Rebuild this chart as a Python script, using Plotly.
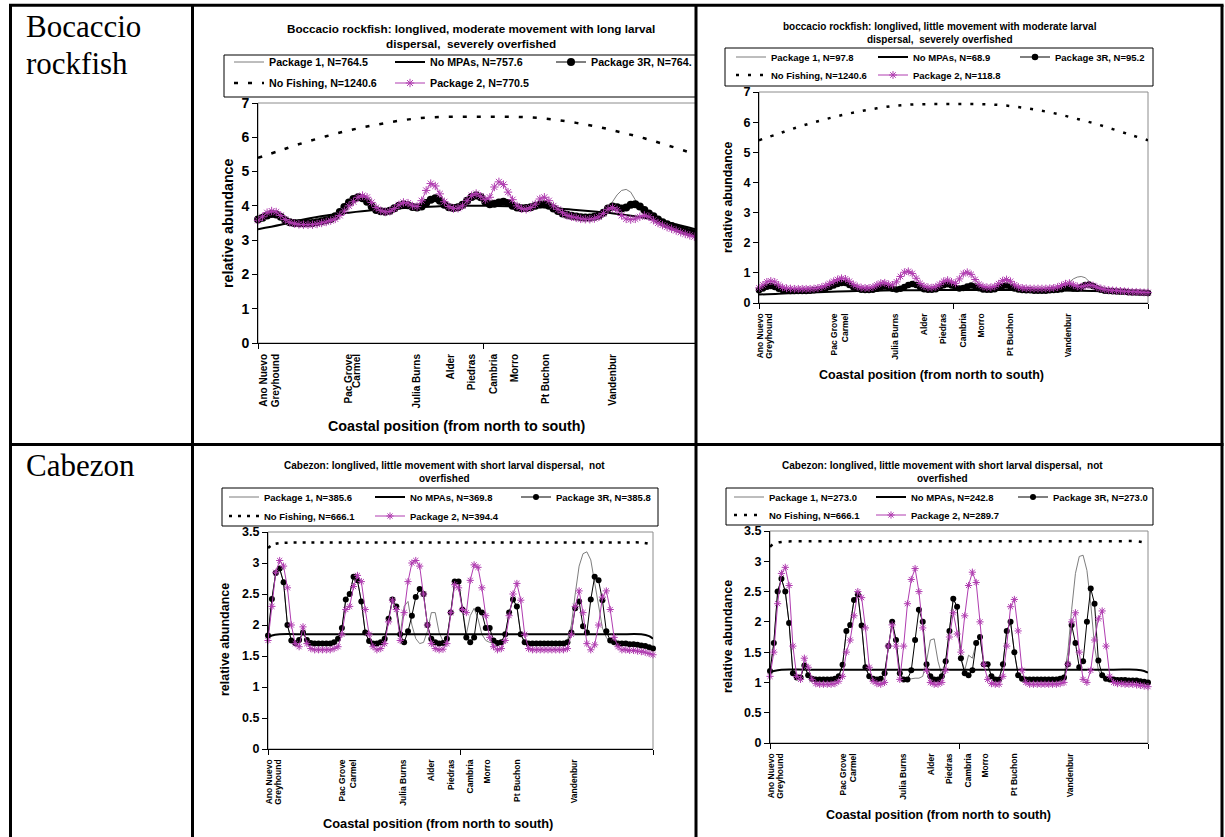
import plotly.graph_objects as go

W, H = 1225, 837
FONT = "Liberation Sans, Arial, sans-serif"
SERIF = "Liberation Serif, Times New Roman, serif"
MAG = "#b03cb0"

# ---------------- data ----------------
site = list(range(100))  # coastal cells, north -> south
smooth_x = [0, 5, 10, 15, 20, 25, 30, 35, 40, 45, 50, 55, 60, 65, 70, 75, 80, 85, 90, 95, 99]
flat_x = [0, 1, 3, 10, 20, 30, 40, 50, 60, 70, 80, 90, 96, 98, 99]

site_names = ["Ano Nuevo", "Greyhound", "Pac Grove", "Carmel", "Julia Burns", "Alder",
              "Piedras", "Cambria", "Morro", "Pt Buchon", "Vandenbur"]
site_pos_a = [1.3, 3.8, 20.0, 21.7, 35.0, 42.3, 47.0, 51.9, 56.5, 63.4, 78.1]
site_pos = [0.4, 2.7, 19.1, 21.9, 34.8, 42.1, 47.0, 52.0, 56.5, 64.0, 78.7]

names_a = ["Package 1, N=764.5", "No MPAs, N=757.6", "Package 3R, N=764.",
           "No Fishing, N=1240.6", "Package 2, N=770.5"]
names_b = ["Package 1, N=97.8", "No MPAs, N=68.9", "Package 3R, N=95.2",
           "No Fishing, N=1240.6", "Package 2, N=118.8"]
names_c = ["Package 1, N=385.6", "No MPAs, N=369.8", "Package 3R, N=385.8",
           "No Fishing, N=666.1", "Package 2, N=394.4"]
names_d = ["Package 1, N=273.0", "No MPAs, N=242.8", "Package 3R, N=273.0",
           "No Fishing, N=666.1", "Package 2, N=289.7"]

a_p1 = [3.60, 3.65, 3.72, 3.76, 3.75, 3.68, 3.58, 3.52, 3.50, 3.49,
        3.49, 3.50, 3.50, 3.52, 3.55, 3.58, 3.62, 3.70, 3.82, 3.97,
        4.10, 4.20, 4.25, 4.22, 4.12, 3.98, 3.88, 3.84, 3.83, 3.86,
        3.93, 4.00, 4.04, 4.02, 3.97, 3.95, 3.98, 4.08, 4.18, 4.22,
        4.15, 4.03, 3.96, 3.94, 3.96, 4.03, 4.15, 4.26, 4.30, 4.25,
        4.12, 4.05, 4.06, 4.10, 4.12, 4.08, 4.00, 3.95, 3.93, 3.94,
        3.96, 4.00, 4.04, 4.05, 4.00, 3.92, 3.85, 3.78, 3.74, 3.71,
        3.69, 3.67, 3.66, 3.66, 3.68, 3.72, 3.78, 3.92, 4.12, 4.32,
        4.45, 4.48, 4.40, 4.18, 3.95, 3.80, 3.74, 3.70, 3.60, 3.52,
        3.46, 3.41, 3.36, 3.31, 3.27, 3.23, 3.20, 3.17, 3.14, 3.11]
a_r3 = [3.60, 3.65, 3.72, 3.76, 3.75, 3.68, 3.58, 3.52, 3.50, 3.49,
        3.49, 3.50, 3.50, 3.52, 3.55, 3.58, 3.62, 3.70, 3.82, 3.97,
        4.10, 4.20, 4.25, 4.22, 4.12, 3.98, 3.88, 3.84, 3.83, 3.86,
        3.93, 4.00, 4.04, 4.02, 3.97, 3.95, 3.98, 4.08, 4.18, 4.22,
        4.15, 4.03, 3.96, 3.94, 3.96, 4.03, 4.15, 4.26, 4.30, 4.25,
        4.12, 4.05, 4.06, 4.10, 4.12, 4.08, 4.00, 3.95, 3.93, 3.94,
        3.96, 4.00, 4.04, 4.05, 4.00, 3.92, 3.85, 3.78, 3.74, 3.71,
        3.69, 3.67, 3.66, 3.66, 3.68, 3.72, 3.80, 3.92, 3.98, 3.96,
        3.92, 3.95, 4.03, 4.05, 3.98, 3.88, 3.78, 3.70, 3.60, 3.52,
        3.46, 3.41, 3.36, 3.31, 3.27, 3.23, 3.20, 3.17, 3.14, 3.11]
a_p2 = [3.58, 3.68, 3.80, 3.85, 3.82, 3.72, 3.60, 3.52, 3.48, 3.46,
        3.45, 3.45, 3.45, 3.47, 3.50, 3.53, 3.57, 3.62, 3.72, 3.85,
        4.00, 4.12, 4.25, 4.30, 4.25, 4.10, 3.95, 3.86, 3.82, 3.84,
        3.92, 4.03, 4.10, 4.08, 4.00, 3.98, 4.15, 4.45, 4.65, 4.58,
        4.35, 4.12, 3.98, 3.92, 3.93, 4.00, 4.15, 4.30, 4.36, 4.28,
        4.18, 4.25, 4.55, 4.70, 4.62, 4.40, 4.18, 4.00, 3.92, 3.90,
        3.95, 4.05, 4.20, 4.25, 4.15, 4.00, 3.90, 3.80, 3.72, 3.68,
        3.65, 3.62, 3.61, 3.61, 3.63, 3.68, 3.78, 3.90, 3.95, 3.88,
        3.72, 3.62, 3.60, 3.62, 3.68, 3.72, 3.68, 3.58, 3.50, 3.44,
        3.38, 3.33, 3.28, 3.23, 3.18, 3.14, 3.10, 3.07, 3.04, 3.00]
a_nompa = [3.32, 3.45, 3.60, 3.72, 3.80, 3.87, 3.92, 3.96, 3.99, 4.00, 4.00,
           3.99, 3.97, 3.94, 3.88, 3.82, 3.75, 3.65, 3.52, 3.36, 3.22]
bocc_nofish = [5.40, 5.62, 5.84, 6.03, 6.20, 6.34, 6.46, 6.55, 6.59, 6.60, 6.60,
               6.60, 6.58, 6.52, 6.42, 6.30, 6.14, 5.97, 5.77, 5.56, 5.40]

b_p1 = [0.42, 0.48, 0.54, 0.56, 0.53, 0.47, 0.43, 0.41, 0.40, 0.40,
        0.40, 0.40, 0.40, 0.41, 0.42, 0.44, 0.46, 0.49, 0.53, 0.58,
        0.63, 0.66, 0.66, 0.60, 0.52, 0.47, 0.44, 0.43, 0.43, 0.44,
        0.47, 0.52, 0.55, 0.52, 0.47, 0.45, 0.47, 0.53, 0.60, 0.63,
        0.60, 0.52, 0.46, 0.44, 0.44, 0.46, 0.52, 0.59, 0.62, 0.58,
        0.51, 0.48, 0.50, 0.55, 0.58, 0.55, 0.49, 0.45, 0.44, 0.44,
        0.46, 0.51, 0.56, 0.58, 0.54, 0.48, 0.45, 0.43, 0.42, 0.42,
        0.41, 0.41, 0.41, 0.41, 0.42, 0.43, 0.44, 0.48, 0.58, 0.70,
        0.80, 0.86, 0.88, 0.84, 0.72, 0.58, 0.48, 0.44, 0.41, 0.40,
        0.39, 0.38, 0.37, 0.37, 0.36, 0.35, 0.35, 0.34, 0.34, 0.33]
b_r3 = [0.42, 0.48, 0.54, 0.56, 0.53, 0.47, 0.43, 0.41, 0.40, 0.40,
        0.40, 0.40, 0.40, 0.41, 0.42, 0.44, 0.46, 0.49, 0.53, 0.58,
        0.63, 0.66, 0.66, 0.60, 0.52, 0.47, 0.44, 0.43, 0.43, 0.44,
        0.47, 0.52, 0.55, 0.52, 0.47, 0.45, 0.47, 0.53, 0.60, 0.63,
        0.60, 0.52, 0.46, 0.44, 0.44, 0.46, 0.52, 0.59, 0.62, 0.58,
        0.51, 0.48, 0.50, 0.55, 0.58, 0.55, 0.49, 0.45, 0.44, 0.44,
        0.46, 0.51, 0.56, 0.58, 0.54, 0.48, 0.45, 0.43, 0.42, 0.42,
        0.41, 0.41, 0.41, 0.41, 0.42, 0.43, 0.44, 0.46, 0.50, 0.52,
        0.48, 0.47, 0.53, 0.60, 0.61, 0.56, 0.49, 0.44, 0.41, 0.40,
        0.39, 0.38, 0.37, 0.37, 0.36, 0.35, 0.35, 0.34, 0.34, 0.33]
b_p2 = [0.50, 0.60, 0.70, 0.73, 0.70, 0.60, 0.52, 0.49, 0.48, 0.47,
        0.47, 0.47, 0.47, 0.47, 0.48, 0.50, 0.53, 0.58, 0.65, 0.72,
        0.78, 0.82, 0.80, 0.72, 0.62, 0.55, 0.51, 0.50, 0.50, 0.53,
        0.60, 0.66, 0.67, 0.62, 0.60, 0.70, 0.88, 1.02, 1.05, 0.98,
        0.82, 0.65, 0.56, 0.52, 0.51, 0.54, 0.62, 0.72, 0.76, 0.70,
        0.65, 0.80, 0.97, 1.02, 0.95, 0.78, 0.62, 0.55, 0.52, 0.52,
        0.55, 0.64, 0.74, 0.78, 0.72, 0.60, 0.53, 0.50, 0.49, 0.48,
        0.48, 0.48, 0.48, 0.48, 0.49, 0.50, 0.53, 0.58, 0.64, 0.66,
        0.60, 0.55, 0.54, 0.57, 0.60, 0.58, 0.52, 0.48, 0.45, 0.43,
        0.42, 0.41, 0.40, 0.39, 0.38, 0.37, 0.37, 0.36, 0.35, 0.35]
b_nompa = [0.28, 0.31, 0.33, 0.36, 0.38, 0.40, 0.41, 0.42, 0.42, 0.43, 0.43,
           0.43, 0.43, 0.43, 0.42, 0.42, 0.41, 0.40, 0.38, 0.35, 0.32]

c_p1 = [1.83, 2.42, 2.84, 2.91, 2.69, 2.00, 1.75, 1.71, 1.76, 1.88,
        1.76, 1.71, 1.70, 1.70, 1.70, 1.70, 1.70, 1.72, 1.78, 1.95,
        2.41, 2.50, 2.78, 2.72, 2.38, 1.88, 1.74, 1.70, 1.70, 1.72,
        1.78, 2.10, 2.41, 2.20, 1.85, 2.30, 2.38, 2.00, 1.78, 1.70,
        1.72, 1.90, 2.20, 2.20, 1.88, 1.74, 1.78, 2.20, 2.70, 2.70,
        2.25, 1.85, 2.15, 2.27, 2.10, 1.85, 1.75, 1.72, 1.71, 1.70,
        1.72, 1.85, 2.20, 2.41, 2.30, 1.85, 1.72, 1.70, 1.70, 1.70,
        1.70, 1.70, 1.70, 1.70, 1.70, 1.70, 1.70, 1.75, 2.00, 2.50,
        2.95, 3.15, 3.18, 3.05, 2.70, 2.30, 1.95, 1.80, 1.72, 1.70,
        1.70, 1.70, 1.70, 1.69, 1.69, 1.68, 1.67, 1.66, 1.64, 1.62]
c_r3 = [1.83, 2.42, 2.84, 2.91, 2.69, 2.00, 1.75, 1.71, 1.76, 1.88,
        1.76, 1.71, 1.70, 1.70, 1.70, 1.70, 1.70, 1.72, 1.78, 1.95,
        2.41, 2.50, 2.78, 2.72, 2.38, 1.88, 1.74, 1.70, 1.70, 1.72,
        1.78, 2.10, 2.41, 2.30, 1.85, 1.72, 1.90, 2.15, 2.45, 2.58,
        2.50, 2.00, 1.78, 1.72, 1.70, 1.71, 1.78, 2.20, 2.70, 2.70,
        2.25, 1.80, 1.72, 1.80, 2.25, 2.20, 1.95, 1.95, 1.75, 1.71,
        1.72, 1.85, 2.20, 2.41, 2.30, 1.85, 1.72, 1.70, 1.70, 1.70,
        1.70, 1.70, 1.70, 1.70, 1.70, 1.70, 1.70, 1.72, 1.88, 2.27,
        2.38, 1.98, 1.88, 2.41, 2.78, 2.72, 2.40, 1.90, 1.75, 1.72,
        1.70, 1.70, 1.70, 1.69, 1.69, 1.68, 1.67, 1.66, 1.64, 1.62]
c_p2 = [1.75, 2.30, 2.85, 3.04, 2.95, 2.60, 2.00, 1.70, 1.65, 1.97,
        1.70, 1.62, 1.60, 1.60, 1.60, 1.60, 1.60, 1.62, 1.65, 1.85,
        2.25, 2.30, 2.62, 2.80, 2.70, 2.25, 1.85, 1.65, 1.60, 1.62,
        1.70, 2.05, 2.40, 2.25, 1.75, 2.20, 2.70, 3.00, 3.04, 2.95,
        2.50, 2.00, 1.70, 1.62, 1.60, 1.61, 1.70, 2.20, 2.65, 2.60,
        2.25, 2.20, 2.72, 2.97, 2.93, 2.60, 2.15, 1.80, 1.65, 1.60,
        1.62, 1.75, 2.15, 2.50, 2.67, 2.40, 1.85, 1.62, 1.60, 1.60,
        1.60, 1.60, 1.60, 1.60, 1.60, 1.60, 1.60, 1.62, 1.85, 2.30,
        2.55, 2.20, 1.70, 1.60, 1.68, 2.00, 2.45, 2.55, 2.25, 1.80,
        1.65, 1.60, 1.60, 1.59, 1.59, 1.58, 1.57, 1.56, 1.54, 1.52]
c_nompa = [1.80, 1.83, 1.85, 1.85, 1.85, 1.85, 1.85, 1.85, 1.85, 1.85, 1.85, 1.85, 1.85, 1.82, 1.78]
cab_nofish = [3.24, 3.29, 3.32, 3.33, 3.33, 3.33, 3.33, 3.33, 3.33, 3.33, 3.33, 3.33, 3.33, 3.31, 3.29]

d_p1 = [1.19, 1.65, 2.50, 2.71, 2.50, 1.98, 1.15, 1.08, 1.08, 1.28,
        1.12, 1.06, 1.05, 1.05, 1.05, 1.05, 1.05, 1.06, 1.10, 1.29,
        1.85, 1.95, 2.36, 2.45, 1.94, 1.25, 1.10, 1.06, 1.05, 1.06,
        1.15, 1.60, 2.00, 1.70, 1.15, 1.05, 1.05, 1.06, 1.07, 1.07,
        1.10, 1.35, 1.70, 1.72, 1.35, 1.12, 1.35, 1.85, 2.38, 2.25,
        1.40, 1.20, 1.45, 1.40, 1.65, 1.75, 1.30, 1.30, 1.10, 1.05,
        1.05, 1.30, 1.85, 2.00, 1.50, 1.12, 1.06, 1.05, 1.05, 1.05,
        1.05, 1.05, 1.05, 1.05, 1.05, 1.05, 1.06, 1.10, 1.50, 2.20,
        2.80, 3.08, 3.10, 2.85, 2.30, 1.60, 1.20, 1.08, 1.06, 1.05,
        1.05, 1.04, 1.04, 1.04, 1.03, 1.03, 1.03, 1.02, 1.01, 1.00]
d_r3 = [1.19, 1.65, 2.50, 2.71, 2.50, 1.98, 1.15, 1.08, 1.08, 1.28,
        1.12, 1.06, 1.05, 1.05, 1.05, 1.05, 1.05, 1.06, 1.10, 1.29,
        1.85, 1.95, 2.36, 2.45, 1.94, 1.25, 1.10, 1.06, 1.05, 1.06,
        1.15, 1.60, 2.00, 1.70, 1.15, 1.05, 1.05, 1.20, 1.70, 2.20,
        2.00, 1.30, 1.10, 1.05, 1.05, 1.10, 1.35, 1.85, 2.38, 2.25,
        1.40, 1.15, 1.12, 1.20, 1.65, 1.75, 1.30, 1.30, 1.10, 1.05,
        1.05, 1.30, 1.85, 2.00, 1.50, 1.12, 1.06, 1.05, 1.05, 1.05,
        1.05, 1.05, 1.05, 1.05, 1.05, 1.05, 1.06, 1.08, 1.30, 1.95,
        1.65, 1.25, 1.35, 2.00, 2.55, 2.30, 1.36, 1.12, 1.06, 1.05,
        1.05, 1.04, 1.04, 1.04, 1.03, 1.03, 1.03, 1.02, 1.01, 1.00]
d_p2 = [1.10, 1.50, 2.30, 2.80, 2.90, 2.60, 1.60, 1.10, 1.05, 1.40,
        1.25, 1.05, 0.98, 0.97, 0.97, 0.97, 0.97, 0.98, 1.02, 1.10,
        1.50, 1.70, 2.10, 2.50, 2.40, 1.90, 1.25, 1.02, 0.98, 0.97,
        1.00, 1.60, 1.95, 1.60, 1.05, 1.60, 2.30, 2.70, 2.88, 2.50,
        1.90, 1.20, 1.00, 0.97, 0.97, 1.00, 1.20, 1.75, 2.15, 1.80,
        1.50, 2.10, 2.60, 2.82, 2.65, 2.00, 1.30, 1.05, 0.98, 0.97,
        0.97, 1.10, 1.60, 2.25, 2.37, 1.85, 1.20, 1.00, 0.97, 0.97,
        0.97, 0.97, 0.97, 0.97, 0.97, 0.97, 0.98, 1.00, 1.30, 2.00,
        2.15, 1.50, 1.05, 1.00, 1.20, 1.70, 2.05, 2.18, 1.60, 1.10,
        1.00, 0.98, 0.98, 0.97, 0.97, 0.97, 0.96, 0.95, 0.94, 0.93]
d_nompa = [1.17, 1.19, 1.21, 1.21, 1.21, 1.21, 1.21, 1.21, 1.21, 1.21, 1.21, 1.21, 1.21, 1.19, 1.16]

fig = go.Figure()
lay = {}
shapes = []
annots = []


def px(x):
    return x / W


def py(y):
    return 1 - y / H


def fnt(size, bold=True, family=FONT):
    return dict(family=family, size=size, color="black", weight="bold" if bold else "normal")


def add_panel(i, names, p1, nm_x, nm, r3, nf_x, nf, p2, dot, star, dash, nfw):
    s = "" if i == 1 else str(i)
    lg1 = "legend" if i == 1 else "legend" + str(2 * i - 1)
    lg2 = "legend" + str(2 * i)
    common = dict(xaxis="x" + s, yaxis="y" + s, hoverinfo="skip")
    fig.add_trace(go.Scatter(x=site, y=p1, mode="lines", name=names[0], legend=lg1,
                             line=dict(color="#6e6e6e", width=0.9), **common))
    fig.add_trace(go.Scatter(x=nm_x, y=nm, mode="lines", name=names[1], legend=lg1,
                             line=dict(color="black", width=2, shape="spline"), **common))
    fig.add_trace(go.Scatter(x=site, y=r3, mode="lines+markers", name=names[2], legend=lg1,
                             line=dict(color="black", width=1),
                             marker=dict(symbol="circle", size=dot, color="black"),
                             cliponaxis=False, **common))
    fig.add_trace(go.Scatter(x=nf_x, y=nf, mode="lines", name=names[3], legend=lg2,
                             line=dict(color="black", width=nfw, dash=dash, shape="spline"), **common))
    fig.add_trace(go.Scatter(x=site, y=p2, mode="lines+markers", name=names[4], legend=lg2,
                             line=dict(color=MAG, width=1),
                             marker=dict(symbol="asterisk-open", size=star, color=MAG,
                                         line=dict(color=MAG, width=1)),
                             cliponaxis=False, **common))
    fig.add_trace(go.Scatter(x=[None], y=[None], xaxis="x" + str(i + 4), yaxis="y" + s,
                             showlegend=False, hoverinfo="skip"))


def add_axes(i, x0, x1, y0, y1, ymax, dtick, tfont, lfont, pos):
    s = "" if i == 1 else str(i)
    xd = [px(x0), px(x1)]
    yd = [py(y1), py(y0)]
    lay["xaxis" + s] = dict(domain=xd, range=[0, 99], anchor="y" + s, showline=True,
                            linecolor="black", linewidth=1, tickmode="array",
                            tickvals=[0, 49.5, 99], ticks="outside", ticklen=5,
                            tickcolor="black", showticklabels=False, showgrid=False,
                            zeroline=False, automargin=False)
    lay["yaxis" + s] = dict(domain=yd, range=[0, ymax], anchor="x" + s, showline=True,
                            linecolor="black", linewidth=1, tickmode="linear", tick0=0,
                            dtick=dtick, ticks="outside", ticklen=5, tickcolor="black",
                            tickfont=fnt(tfont), showgrid=False, zeroline=False,
                            automargin=False)
    lay["xaxis" + str(i + 4)] = dict(domain=xd, range=[0, 99], overlaying="x" + s,
                                     anchor="y" + s, side="bottom", tickmode="array",
                                     tickvals=pos, ticktext=site_names, tickangle=-90,
                                     ticks="outside", ticklen=6,
                                     tickcolor="rgba(0,0,0,0)", showline=False,
                                     showgrid=False, zeroline=False, tickfont=fnt(lfont),
                                     automargin=False)
    shapes.append(dict(type="rect", xref="x" + s + " domain", yref="y" + s + " domain",
                       x0=0, x1=1, y0=0, y1=1, line=dict(color="#8c8c8c", width=1),
                       layer="below"))


def add_legends(i, x, y1, y2, size, ew, box):
    keys = ["legend" if i == 1 else "legend" + str(2 * i - 1), "legend" + str(2 * i)]
    for key, yy in zip(keys, [y1, y2]):
        lay[key] = dict(orientation="h", x=px(x), y=py(yy), xref="paper", yref="paper",
                        xanchor="left", yanchor="middle", bgcolor="rgba(0,0,0,0)",
                        borderwidth=0, font=fnt(size), entrywidth=ew,
                        entrywidthmode="pixels", itemwidth=30, traceorder="normal",
                        itemclick=False, itemdoubleclick=False)
    bx0, by0, bx1, by1 = box
    shapes.append(dict(type="rect", xref="paper", yref="paper", x0=px(bx0), x1=px(bx1),
                       y0=py(by1), y1=py(by0), line=dict(color="black", width=1),
                       layer="above"))


def text(t, x, y, size, bold=True, angle=0, xanchor="center", family=FONT):
    annots.append(dict(text=t, x=px(x), y=py(y), xref="paper", yref="paper",
                       showarrow=False, textangle=angle, xanchor=xanchor,
                       yanchor="middle", font=fnt(size, bold, family), align="center"))


add_panel(1, names_a, a_p1, smooth_x, a_nompa, a_r3, smooth_x, bocc_nofish, a_p2, 8, 7, "4px,10px", 2.5)
add_panel(2, names_b, b_p1, smooth_x, b_nompa, b_r3, smooth_x, bocc_nofish, b_p2, 6.5, 6.5, "3px,9px", 2.5)
add_panel(3, names_c, c_p1, flat_x, c_nompa, c_r3, flat_x, cab_nofish, c_p2, 6, 6, "3px,6px", 2.5)
add_panel(4, names_d, d_p1, flat_x, d_nompa, d_r3, flat_x, cab_nofish, d_p2, 6, 6, "3px,7px", 2.5)

add_axes(1, 258, 708, 103, 343, 7, 1, 14, 10, site_pos_a)
add_axes(2, 759, 1148, 92, 303, 7, 1, 12.5, 8.5, site_pos)
add_axes(3, 268, 653, 532, 749, 3.5, 0.5, 12.5, 8.5, site_pos)
add_axes(4, 770, 1148, 531, 743, 3.5, 0.5, 12.5, 8.5, site_pos)

add_legends(1, 229, 62, 83, 10.7, 116, (224, 55, 697, 97))
add_legends(2, 731, 57, 75, 9.5, 97, (725, 48, 1153, 86))
add_legends(3, 224, 497, 516, 9.5, 101, (222, 488, 658, 526))
add_legends(4, 729, 497, 515, 9.5, 97, (726, 488, 1153, 525))

text("Boccacio rockfish: longlived, moderate movement with long larval<br>dispersal,\u00a0 severely overfished", 471, 36.5, 11.7)
text("boccacio rockfish: longlived, little movement with moderate larval<br>dispersal,\u00a0 severely overfished", 940, 33, 10)
text("Cabezon: longlived, little movement with short larval dispersal,\u00a0 not<br>overfished", 444, 472, 10)
text("Cabezon: longlived, little movement with short larval dispersal,\u00a0 not<br>overfished", 942, 472, 10)

text("relative abundance", 228, 223, 14.3, angle=-90)
text("relative abundance", 728, 197, 12.3, angle=-90)
text("relative abundance", 225, 640, 12.5, angle=-90)
text("relative abundance", 728, 637, 12.5, angle=-90)
text("Coastal position (from north to south)", 457, 426, 14.3)
text("Coastal position (from north to south)", 931, 375, 12.5)
text("Coastal position (from north to south)", 438, 823, 12.8)
text("Coastal position (from north to south)", 938, 815, 12.5)

text("Bocaccio", 24, 26, 31, bold=False, xanchor="left", family=SERIF)
text("rockfish", 24, 63, 31, bold=False, xanchor="left", family=SERIF)
text("Cabezon", 24, 465, 31, bold=False, xanchor="left", family=SERIF)

shapes.append(dict(type="rect", xref="paper", yref="paper", x0=px(697), x1=px(718),
                   y0=py(443), y1=py(7), fillcolor="white", line=dict(width=0),
                   layer="above"))

for xx in [10.5, 192.5, 696, 1222]:
    shapes.append(dict(type="line", xref="paper", yref="paper", x0=px(xx), x1=px(xx),
                       y0=py(5.3), y1=py(H + 5), line=dict(color="black", width=3),
                       layer="above"))
for yy in [5.3, 444.5]:
    shapes.append(dict(type="line", xref="paper", yref="paper", x0=px(9), x1=px(1223.5),
                       y0=py(yy), y1=py(yy), line=dict(color="black", width=3),
                       layer="above"))

lay.update(dict(width=W, height=H, autosize=False,
                margin=dict(l=0, r=0, t=0, b=0, pad=0, autoexpand=False),
                paper_bgcolor="white", plot_bgcolor="rgba(0,0,0,0)", showlegend=True,
                shapes=shapes, annotations=annots, hovermode=False))
fig.update_layout(**lay)

fig.write_html("out.html", include_plotlyjs=True, full_html=True,
               config={"displayModeBar": False, "staticPlot": True},
               post_script="document.documentElement.style.margin='0';document.body.style.margin='0';document.body.style.padding='0';document.documentElement.style.overflow='hidden';")
